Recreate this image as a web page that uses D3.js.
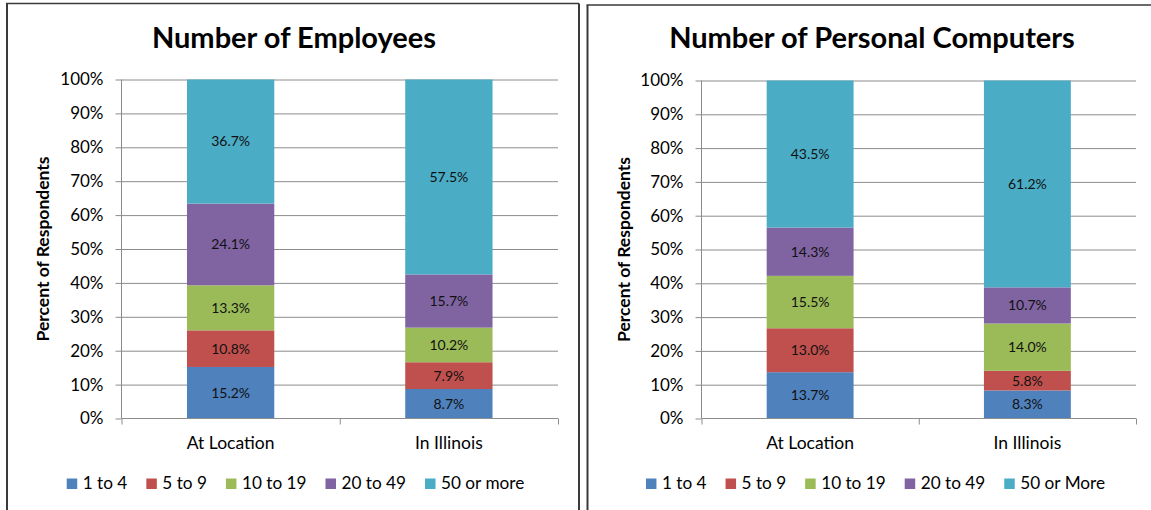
<!DOCTYPE html>
<html>
<head>
<meta charset="utf-8">
<script src="https://cdn.jsdelivr.net/npm/d3@7"></script>
<style>
  body { margin: 0; background: #fff; }
  svg { display: block; font-family: Lato, "Open Sans", sans-serif; }
</style>
</head>
<body>
<svg id="chart" width="1151" height="510"></svg>
<script>
// data
var categories = ["At Location", "In Illinois"];
var employeeGroups = ["1 to 4", "5 to 9", "10 to 19", "20 to 49", "50 or more"];
var computerGroups = ["1 to 4", "5 to 9", "10 to 19", "20 to 49", "50 or More"];
var employeesAtLocation = [15.2, 10.8, 13.3, 24.1, 36.7];
var employeesInIllinois = [8.7, 7.9, 10.2, 15.7, 57.5];
var computersAtLocation = [13.7, 13.0, 15.5, 14.3, 43.5];
var computersInIllinois = [8.3, 5.8, 14.0, 10.7, 61.2];
var yTicks = [0, 10, 20, 30, 40, 50, 60, 70, 80, 90, 100];
var colors = ["#4F81BD", "#C0504D", "#9BBB59", "#8064A2", "#4BACC6"];

var svg = d3.select("#chart");

// panel frames
function frame(x0, y0, x1, y1, right) {
  var g = svg.append("g").attr("stroke", "#3a3a3a").attr("fill", "none");
  g.append("line").attr("x1", x0).attr("x2", x0).attr("y1", y0).attr("y2", y1).attr("stroke-width", 2);
  g.append("line").attr("x1", x0 - 1).attr("x2", x1).attr("y1", y0).attr("y2", y0).attr("stroke-width", 1.5);
  if (right) g.append("line").attr("x1", x1).attr("x2", x1).attr("y1", y0).attr("y2", y1).attr("stroke-width", 2);
}
frame(7, 3.5, 579, 512, true);
frame(587.5, 5, 1160, 512, false);

function drawChart(opt) {
  var g = svg.append("g");
  var rows = categories.map(function (c, i) {
    var vals = opt.values[i], acc = 0;
    return opt.groups.map(function (s, j) {
      var y0 = acc; acc += vals[j];
      return { cat: c, idx: j, v: vals[j], y0: y0, y1: Math.min(acc, 100) };
    });
  });

  var x = d3.scaleBand().domain(categories).range([opt.left, opt.right])
    .paddingInner(0.6).paddingOuter(0.3);
  var xb = d3.scaleLinear().domain([0, categories.length]).range([opt.left, opt.right]);
  var y = d3.scaleLinear().domain([0, 100]).range([opt.bottom, opt.top]);

  // title
  g.append("text").attr("x", opt.titleX).attr("y", 48)
    .attr("text-anchor", "middle").attr("font-weight", "bold").attr("font-size", 29)
    .attr("fill", "#000").text(opt.title);

  // gridlines
  g.append("g").attr("transform", "translate(" + opt.left + ",0)")
    .call(d3.axisLeft(y).tickValues(yTicks.slice(1)).tickSize(-(opt.right - opt.left)).tickFormat(""))
    .call(function (a) {
      a.select(".domain").remove();
      a.selectAll("line").attr("stroke", "#8c8c8c");
    });

  // bars
  rows.forEach(function (r) {
    var seg = g.append("g").selectAll("g").data(r).enter().append("g");
    seg.append("rect")
      .attr("x", function (d) { return x(d.cat); })
      .attr("width", x.bandwidth())
      .attr("y", function (d) { return y(d.y1); })
      .attr("height", function (d) { return y(d.y0) - y(d.y1); })
      .attr("fill", function (d) { return colors[d.idx]; });
    seg.append("text")
      .attr("x", function (d) { return x(d.cat) + x.bandwidth() / 2; })
      .attr("y", function (d) { return (y(d.y0) + y(d.y1)) / 2; })
      .attr("dy", "0.35em").attr("text-anchor", "middle")
      .attr("font-size", 14).attr("fill", "#111")
      .text(function (d) { return d.v.toFixed(1) + "%"; });
  });

  // y axis
  g.append("g").attr("transform", "translate(" + opt.left + ",0)")
    .call(d3.axisLeft(y).tickValues(yTicks).tickSize(6).tickPadding(12).tickFormat(function (d) { return d + "%"; }))
    .call(function (a) {
      a.select(".domain").attr("stroke", "#8c8c8c").attr("d", "M0," + opt.top + "V" + opt.bottom);
      a.selectAll("line").attr("stroke", "#8c8c8c");
      a.selectAll("text").attr("font-size", 17).attr("fill", "#000").attr("font-family", "Lato, sans-serif");
    });

  // x axis
  g.append("g").attr("transform", "translate(0," + opt.bottom + ")")
    .call(d3.axisBottom(xb).tickValues(d3.range(categories.length + 1)).tickSize(6).tickFormat(""))
    .call(function (a) {
      a.select(".domain").attr("stroke", "#8c8c8c").attr("d", "M" + opt.left + ",0H" + opt.right);
      a.selectAll("line").attr("stroke", "#8c8c8c");
    });
  g.selectAll(".cat").data(categories).enter().append("text")
    .attr("x", function (d) { return x(d) + x.bandwidth() / 2; })
    .attr("y", opt.bottom + 30).attr("text-anchor", "middle")
    .attr("font-size", 17.5).attr("fill", "#000").text(function (d) { return d; });

  // y axis title
  g.append("text").attr("transform", "translate(" + opt.yTitleX + "," + ((opt.top + opt.bottom) / 2) + ") rotate(-90)")
    .attr("text-anchor", "middle").attr("font-weight", "bold").attr("font-size", 17.5)
    .attr("fill", "#000").text("Percent of Respondents");

  // legend
  var lg = g.append("g");
  var cx = 0;
  opt.groups.forEach(function (s, j) {
    var it = lg.append("g").attr("transform", "translate(" + cx + ",0)");
    it.append("rect").attr("x", 0).attr("y", -10.5).attr("width", 10.5).attr("height", 10.5).attr("fill", colors[j]);
    var t = it.append("text").attr("x", 16).attr("y", 0).attr("font-size", 17.2).attr("fill", "#000").text(s);
    cx += 16 + t.node().getComputedTextLength() + 19;
  });
  var lw = cx - 19;
  lg.attr("transform", "translate(" + (opt.legendX - lw / 2) + ",489)");
}

drawChart({
  title: "Number of Employees", titleX: 294, groups: employeeGroups,
  values: [employeesAtLocation, employeesInIllinois],
  left: 121.5, right: 558, top: 79.5, bottom: 418.5, yTitleX: 49, legendX: 295.5
});
drawChart({
  title: "Number of Personal Computers", titleX: 872, groups: computerGroups,
  values: [computersAtLocation, computersInIllinois],
  left: 701.5, right: 1136, top: 80.5, bottom: 418.5, yTitleX: 630, legendX: 875.5
});
</script>
</body>
</html>
